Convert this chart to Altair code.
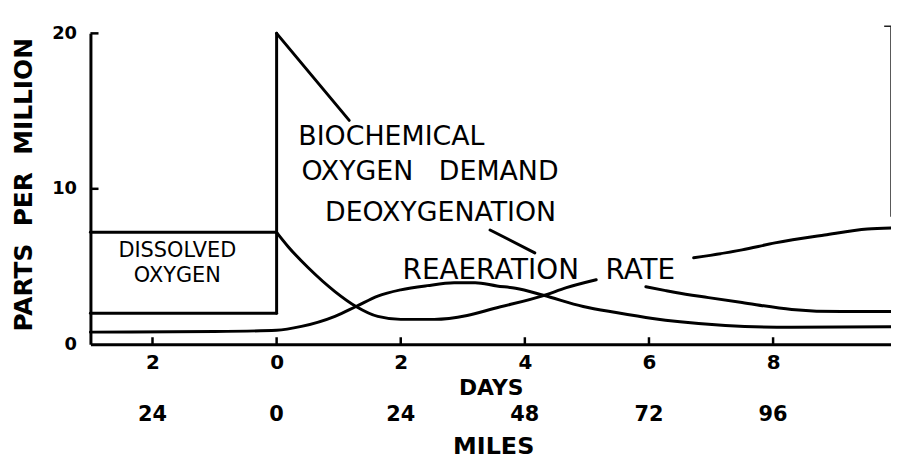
import altair as alt
import pandas as pd

# ---------------- data ----------------
# straight pieces
box_top_day = [-3.0, 0.0]
box_top_ppm = [7.2, 7.2]
box_bot_day = [-3.0, 0.0]
box_bot_ppm = [2.0, 2.0]
jump_day = [0.0, 0.0]
jump_ppm = [2.0, 20.0]
bod_day = [0.0, 1.17]
bod_ppm = [20.0, 14.4]
deox_leader_day = [3.44, 4.16]
deox_leader_ppm = [7.35, 5.88]
border_day = [9.79, 9.9, 9.9]
border_ppm = [20.45, 20.45, 8.2]

# curves
sag_day = [0.0, 0.19, 0.51, 0.94, 1.28, 1.63, 2.0, 2.54, 3.07, 3.5, 4.3, 4.67, 5.15]
sag_ppm = [7.2, 6.26, 4.92, 3.39, 2.43, 1.79, 1.6, 1.6, 1.85, 2.3, 3.13, 3.64, 4.15]
recov_day = [6.72, 7.5, 8.03, 8.83, 9.52, 9.9]
recov_ppm = [5.56, 6.07, 6.52, 7.03, 7.41, 7.48]
hump_day = [-3.0, -1.0, 0.0, 0.4, 0.94, 1.28, 1.63, 2.0, 2.43, 2.86, 3.2, 3.55, 3.85,
            4.3, 4.94, 5.47, 6.06, 6.5, 7.23, 8.3, 9.9]
hump_ppm = [0.78, 0.82, 0.9, 1.15, 1.8, 2.43, 3.1, 3.5, 3.77, 3.95, 3.96, 3.75, 3.6,
            3.15, 2.43, 2.04, 1.66, 1.45, 1.21, 1.09, 1.13]
tail_day = [5.95, 6.27, 6.43, 6.96, 7.5, 8.3, 9.1, 9.9]
tail_ppm = [3.7, 3.45, 3.33, 3.0, 2.68, 2.24, 2.1, 2.1]

# axis ticks
x_tick_days = [-2, 0, 2, 4, 6, 8]
y_tick_ppm = [10, 20]
miles_labels = ["24", "0", "24", "48", "72", "96"]

NB = "\u00a0"
# annotations (font size per label)
left_labels = ["BIOCHEMICAL", "OXYGEN" + NB * 3 + "DEMAND", "DEOXYGENATION",
               "REAERATION" + NB * 3 + "RATE"]
left_label_day = [0.35, 0.4, 0.78, 2.03]
left_label_ppm = [13.3, 11.05, 8.43, 4.73]
left_label_size = [27, 27, 27, 28]
center_labels = ["DISSOLVED", "OXYGEN"]
center_label_day = [-1.6, -1.6]
center_label_ppm = [5.97, 4.4]

FONT = "DejaVu Sans"


def segs(pieces):
    rows = []
    for name, ds, ps in pieces:
        for i, (d, p) in enumerate(zip(ds, ps)):
            rows.append({"seg": name, "ord": i, "day": d, "ppm": p})
    return pd.DataFrame(rows)


straight = segs([
    ("box_top", box_top_day, box_top_ppm),
    ("box_bot", box_bot_day, box_bot_ppm),
    ("jump", jump_day, jump_ppm),
    ("bod", bod_day, bod_ppm),
    ("deox_leader", deox_leader_day, deox_leader_ppm),
])
curves = segs([
    ("sag", sag_day, sag_ppm),
    ("recov", recov_day, recov_ppm),
    ("hump", hump_day, hump_ppm),
    ("tail", tail_day, tail_ppm),
])
border = segs([("border", border_day, border_ppm)])

xscale = alt.Scale(domain=[-3, 9.9], nice=False, zero=False)
yscale = alt.Scale(domain=[0, 20], nice=False, zero=False)

x_axis = alt.Axis(
    values=x_tick_days, labelExpr="'' + abs(datum.value)", ticks=False, grid=False,
    domainColor="black", domainWidth=3, labelFont=FONT, labelFontSize=20,
    labelFontWeight="bold", labelColor="black", labelPadding=8, labelFlush=False,
    labelOverlap=False, title="DAYS", titleFont=FONT, titleFontSize=22,
    titleFontWeight="bold", titleColor="black", titleX=403, titleY=44,
    titleBaseline="middle", titleAlign="center",
)
y_axis = alt.Axis(
    values=[0, 10, 20], ticks=False, grid=False, domainColor="black", domainWidth=3,
    labelFont=FONT, labelFontSize=18, labelFontWeight="bold", labelColor="black",
    labelPadding=14, labelFlush=False, labelOverlap=False,
    title="PARTS" + NB * 2 + "PER" + NB * 2 + "MILLION", titleFont=FONT,
    titleFontSize=25, titleFontWeight="bold", titleColor="black", titleAngle=270,
    titleX=-67, titleY=152, titleAlign="center", titleBaseline="middle",
)


def X(field):
    return alt.X(field, type="quantitative", scale=xscale, axis=x_axis)


def Y(field):
    return alt.Y(field, type="quantitative", scale=yscale, axis=y_axis)


lines_straight = alt.Chart(straight).mark_line(
    color="black", strokeWidth=3, strokeCap="round", strokeJoin="round"
).encode(x=X("day"), y=Y("ppm"), detail="seg:N", order="ord:Q")

lines_curves = alt.Chart(curves).mark_line(
    color="black", strokeWidth=3, strokeCap="round", interpolate="monotone"
).encode(x=X("day"), y=Y("ppm"), detail="seg:N", order="ord:Q")

border_line = alt.Chart(border).mark_line(color="#222", strokeWidth=1.5).encode(
    x=X("day"), y=Y("ppm"), order="ord:Q"
)

xt = pd.DataFrame({"day": x_tick_days, "ppm": [0] * len(x_tick_days),
                   "p1": [0.45] * len(x_tick_days)})
x_ticks = alt.Chart(xt).mark_rule(color="black", strokeWidth=2.5).encode(
    x=X("day"), y=Y("ppm"), y2="p1:Q"
)
yt = pd.DataFrame({"ppm": y_tick_ppm, "day": [-3.0] * len(y_tick_ppm),
                   "d1": [-2.87] * len(y_tick_ppm)})
y_ticks = alt.Chart(yt).mark_rule(color="black", strokeWidth=2.5).encode(
    y=Y("ppm"), x=X("day"), x2="d1:Q"
)

miles = pd.DataFrame({"day": x_tick_days, "label": miles_labels})
miles_text = alt.Chart(miles).mark_text(
    font=FONT, fontSize=21, fontWeight="bold", color="black", baseline="middle"
).encode(x=X("day"), y=alt.value(384), text="label:N")

miles_title = alt.Chart(pd.DataFrame({"t": ["MILES"]})).mark_text(
    font=FONT, fontSize=24, fontWeight="bold", color="black", baseline="middle"
).encode(x=alt.value(406), y=alt.value(417), text="t:N")

ann_left = alt.Chart(pd.DataFrame({
    "t": left_labels, "day": left_label_day, "ppm": left_label_ppm,
    "size": left_label_size,
})).mark_text(font=FONT, color="black", align="left",
              baseline="middle").encode(
    x=X("day"), y=Y("ppm"), text="t:N",
    size=alt.Size("size:Q", scale=None, legend=None),
)

ann_center = alt.Chart(pd.DataFrame({
    "t": center_labels, "day": center_label_day, "ppm": center_label_ppm
})).mark_text(font=FONT, fontSize=21, color="black", align="center",
              baseline="middle").encode(x=X("day"), y=Y("ppm"), text="t:N")

chart = alt.layer(
    lines_straight, lines_curves, border_line, x_ticks, y_ticks,
    miles_text, miles_title, ann_left, ann_center,
).properties(
    width=806, height=313,
    autosize=alt.AutoSizeParams(type="none"),
    padding={"left": 83, "top": 24, "right": 0, "bottom": 114},
    background="white",
).configure_view(strokeWidth=0)

chart.save("out.html", embed_options={"renderer": "svg", "actions": False})
